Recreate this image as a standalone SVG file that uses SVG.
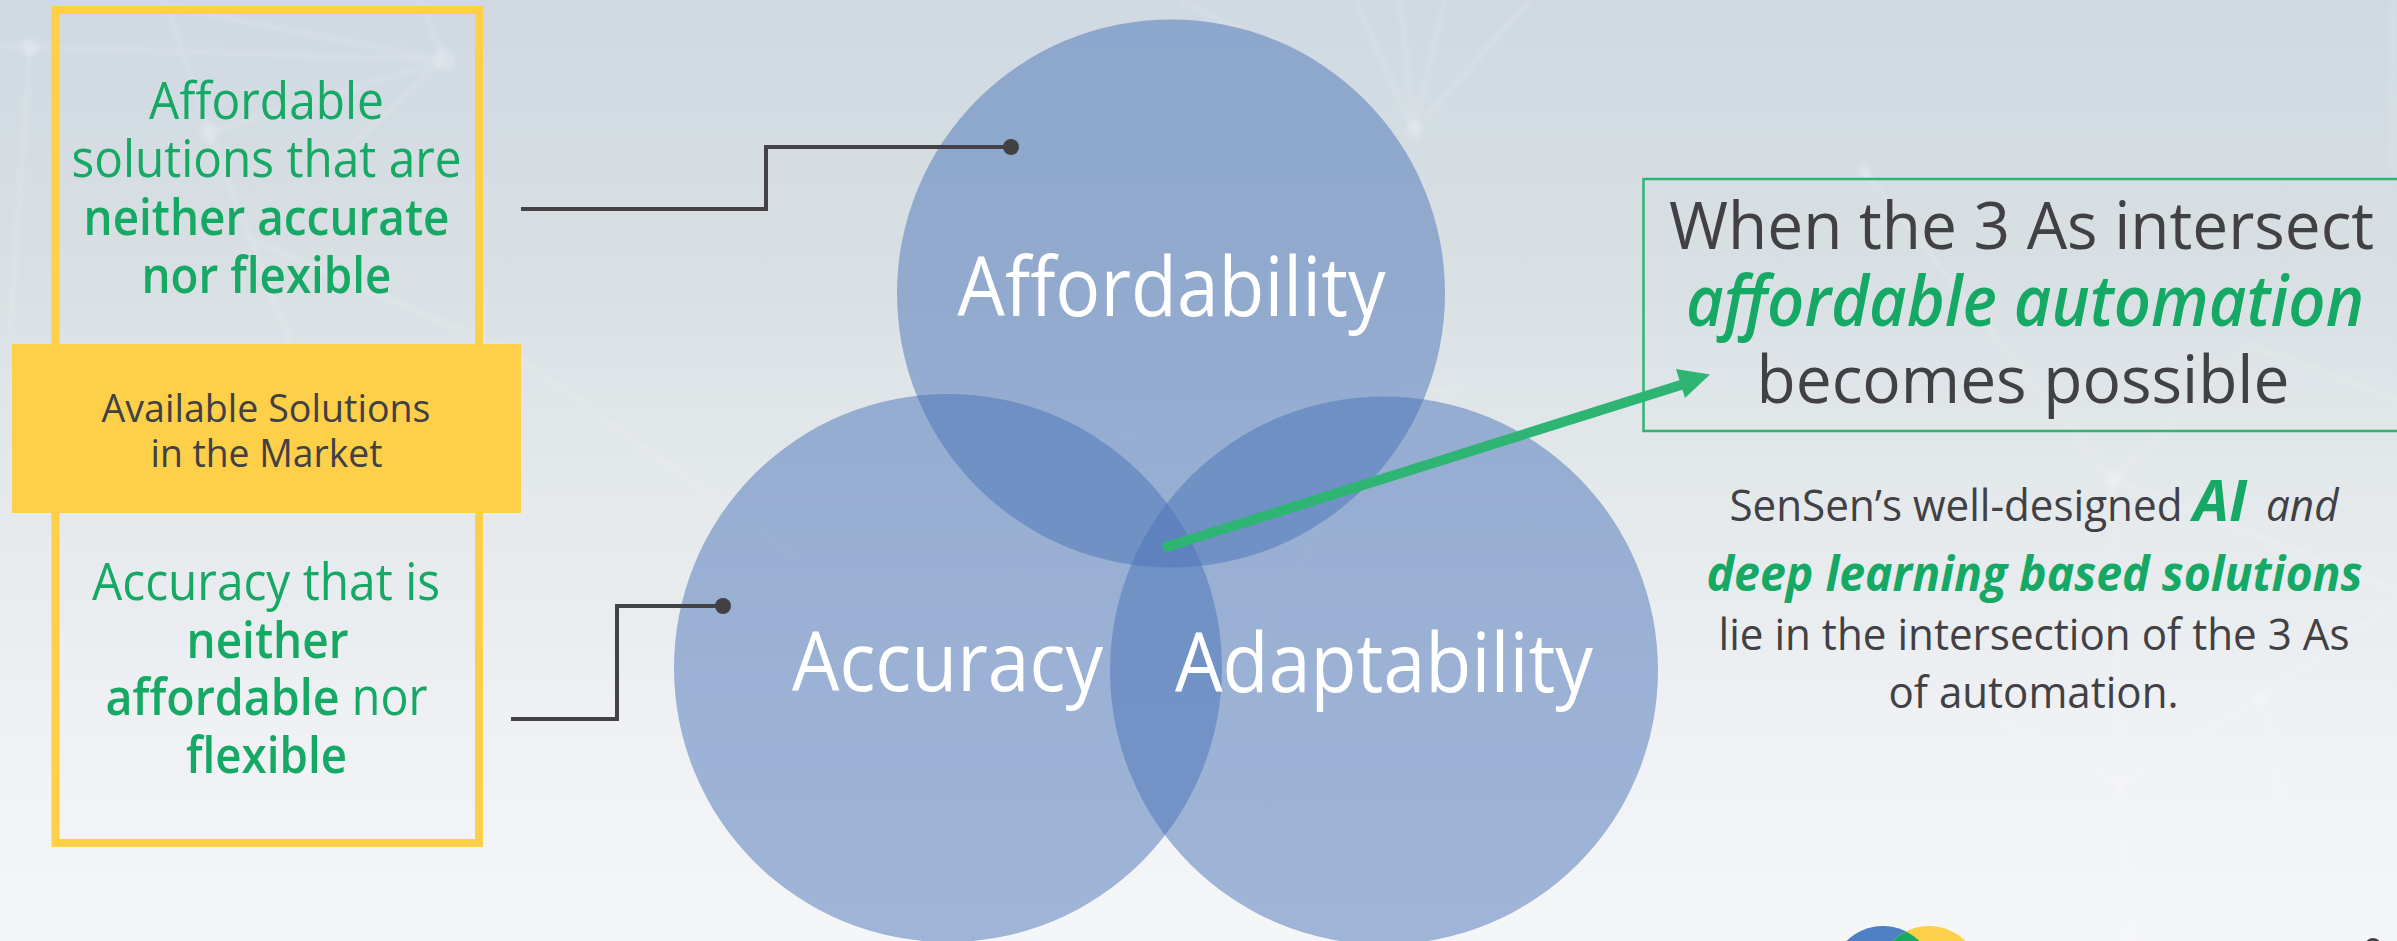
<svg xmlns="http://www.w3.org/2000/svg" width="2397" height="941" viewBox="0 0 2397 941">
<defs>
<linearGradient id="bg" x1="0" y1="0" x2="0" y2="1"><stop offset="0" stop-color="#d0d8e2"/><stop offset="0.12" stop-color="#d3dce2"/><stop offset="0.3" stop-color="#d9e0e3"/><stop offset="0.5" stop-color="#e3e8eb"/><stop offset="0.75" stop-color="#eef0f3"/><stop offset="1" stop-color="#f5f6f8"/></linearGradient>
<filter id="soft"><feGaussianBlur stdDeviation="2"/></filter>
</defs>
<style>
text{font-family:"Open Sans","Noto Sans","Liberation Sans",sans-serif;text-anchor:middle}
.c{fill:#4a74b8;fill-opacity:.5}
.lab{font-size:83px;fill:#fff;font-weight:500}
.g{font-size:51px;fill:#16a865}
.b{font-weight:600}
.d{fill:#414044}
.h{font-size:66px;fill:#414044}
.p{font-size:43px;fill:#414044}
.line{fill:none;stroke:#434347;stroke-width:4}
</style>
<rect width="2397" height="941" fill="url(#bg)"/>
<g id="texture" fill="none" stroke="#fff" stroke-opacity=".13" stroke-width="5" filter="url(#soft)">
<path d="M0 45L30 47L444 60L160 5M30 47L10 330M444 60L209 133L291 344M444 60L420 0M209 133L165 0M444 60L330 165M245 237L510 351L800 560M1180 0L1240 30M1414 130L1355 0M1414 130L1400 0M1414 130L1445 0M1414 130L1530 0M2393 0V170"/>
<path d="M1864 171L2001 345L2113 480L2250 345L2397 400M2113 480L2120 783L2261 697L2397 600M2113 480L2397 590M2000 720L2120 783M2261 697L2290 840M1462 387L1100 440M1462 387L1330 500L1240 700M2120 783L2130 941"/>
</g>
<g id="texture-dots" fill="#fff" fill-opacity=".2" filter="url(#soft)"><circle cx="30" cy="47" r="9"/><circle cx="444" cy="60" r="11"/><circle cx="209" cy="133" r="9"/><circle cx="1414" cy="130" r="9"/><circle cx="1864" cy="172" r="7"/><circle cx="2113" cy="480" r="8"/><circle cx="2120" cy="783" r="8"/><circle cx="2261" cy="697" r="7"/></g>
<g id="solutions-frame"><rect x="55.500" y="10" width="423.500" height="833" fill="none" stroke="#fed049" stroke-width="8"/></g>
<g id="affordable-note"><text class="g" x="266.500" y="119" textLength="235" lengthAdjust="spacingAndGlyphs">Affordable</text><text class="g" x="266.500" y="177" textLength="390" lengthAdjust="spacingAndGlyphs">solutions that are</text><text class="g b" x="266.500" y="235" textLength="366" lengthAdjust="spacingAndGlyphs">neither accurate</text><text class="g b" x="266.500" y="293" textLength="250" lengthAdjust="spacingAndGlyphs">nor flexible</text></g>
<g id="accuracy-note"><text class="g" x="266" y="599.500" textLength="348" lengthAdjust="spacingAndGlyphs">Accuracy that is</text><text class="g b" x="267.500" y="657.500" textLength="162" lengthAdjust="spacingAndGlyphs">neither</text><text class="g" x="266.500" y="715" textLength="322" lengthAdjust="spacingAndGlyphs"><tspan class="b">affordable</tspan> nor</text><text class="g b" x="266.500" y="772.500" textLength="161" lengthAdjust="spacingAndGlyphs">flexible</text></g>
<g id="available-solutions"><rect x="12" y="344" width="509" height="169" fill="#fed049"/><text class="d" font-weight="500" font-size="39" x="266" y="422" textLength="329" lengthAdjust="spacingAndGlyphs">Available Solutions</text><text class="d" font-weight="500" font-size="39" x="266.500" y="467" textLength="232" lengthAdjust="spacingAndGlyphs">in the Market</text></g>
<g id="affordability"><circle class="c" cx="1171" cy="293.500" r="274"/><text class="lab" x="1171.500" y="316" textLength="428" lengthAdjust="spacingAndGlyphs">Affordability</text></g>
<g id="accuracy"><circle class="c" cx="948" cy="668" r="274"/><text class="lab" x="947.500" y="691" textLength="311" lengthAdjust="spacingAndGlyphs">Accuracy</text></g>
<g id="adaptability"><circle class="c" cx="1384" cy="670.500" r="274"/><text class="lab" x="1384" y="692" textLength="418" lengthAdjust="spacingAndGlyphs">Adaptability</text></g>
<g id="connectors">
<path class="line" d="M521 209H766V147H1011"/><circle cx="1011" cy="147" r="8" class="d"/>
<path class="line" d="M511 719H617V606H723"/><circle cx="723" cy="606" r="8" class="d"/>
<path d="M1163 548L1684 384" fill="none" stroke="#2fb573" stroke-width="10"/><path d="M1676 369L1710 374.500L1685 398Z" fill="#2fb573"/>
</g>
<g id="intersection-callout"><rect x="1643.500" y="179" width="760" height="252" fill="none" stroke="#2fb573" stroke-width="2.500"/>
<text class="h" x="2021.600" y="248.500" textLength="705" lengthAdjust="spacingAndGlyphs">When the 3 As intersect</text>
<text class="h b" style="fill:#16a865;font-style:italic;font-size:70px" x="2025" y="326" textLength="678" lengthAdjust="spacingAndGlyphs">affordable automation</text>
<text class="h" x="2023" y="402.500" textLength="533" lengthAdjust="spacingAndGlyphs">becomes possible</text></g>
<g id="description"><text class="p" x="2034" y="521" textLength="609" lengthAdjust="spacingAndGlyphs">SenSen’s well-designed <tspan font-size="58" font-weight="700" font-style="italic" fill="#16a865">AI</tspan> <tspan dx="8" font-style="italic">and</tspan></text>
<text class="p" font-weight="700" font-style="italic" style="fill:#16a865;font-size:49px" x="2034.500" y="590.500" textLength="656" lengthAdjust="spacingAndGlyphs">deep learning based solutions</text>
<text class="p" x="2034" y="649.500" textLength="631" lengthAdjust="spacingAndGlyphs">lie in the intersection of the 3 As</text>
<text class="p" x="2033.500" y="707.500" textLength="290" lengthAdjust="spacingAndGlyphs">of automation.</text></g>
<g id="logo"><circle cx="1883" cy="978" r="52" fill="#4f7fc4"/><circle cx="1929" cy="978" r="52" fill="#fed049"/><path d="M1906 931.400A52 52 0 0 1 1906 1024.600A52 52 0 0 1 1906 931.400Z" fill="#16a865"/><circle cx="2373" cy="946" r="8" class="d"/></g>
</svg>
